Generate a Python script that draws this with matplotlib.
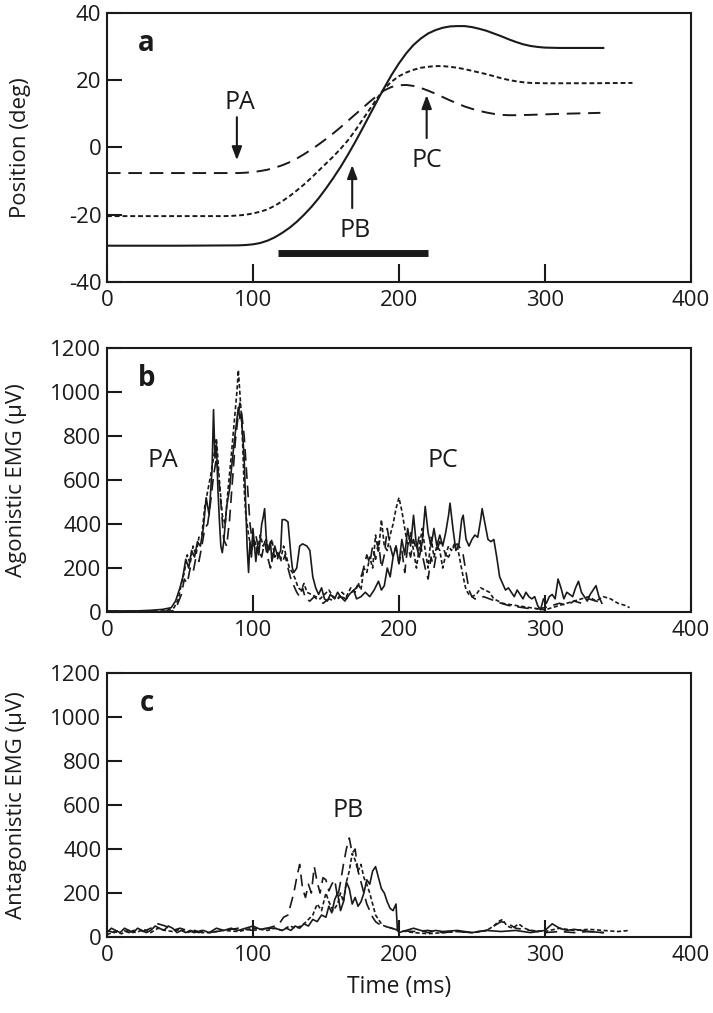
import matplotlib as mpl
mpl.use('Agg')
import matplotlib.pyplot as plt

#
#--- panel a: joint position (deg) vs time (ms)
#
pos_solid_t = [0, 50, 90, 95, 100, 105, 110, 115, 120, 125, 130, 135, 140, 145, 150, 155,
               160, 165, 170, 175, 180, 185, 190, 195, 200, 205, 210, 215, 220, 225, 230,
               235, 240, 245, 250, 255, 260, 265, 270, 275, 280, 285, 290, 295, 300, 310, 340]
pos_solid_v = [-29.2, -29.2, -29.1, -29.0, -28.8, -28.4, -27.7, -26.7, -25.4, -23.9, -22.1,
               -20.0, -17.7, -15.1, -12.2, -9.1, -5.8, -2.2, 1.6, 5.6, 9.7, 13.8, 17.8, 21.6,
               25.0, 28.0, 30.5, 32.4, 33.9, 34.9, 35.6, 36.0, 36.1, 36.1, 35.8, 35.3, 34.7,
               33.9, 33.1, 32.2, 31.4, 30.7, 30.2, 29.9, 29.7, 29.6, 29.6]

pos_short_t = [0, 80, 85, 90, 95, 100, 105, 110, 115, 120, 125, 130, 135, 140, 145, 150,
               155, 160, 165, 170, 175, 180, 185, 190, 195, 200, 205, 210, 215, 220, 225,
               230, 235, 240, 245, 250, 255, 260, 265, 270, 275, 280, 285, 290, 300, 330, 360]
pos_short_v = [-20.4, -20.4, -20.35, -20.2, -20.0, -19.6, -19.1, -18.4, -17.3, -16.0, -14.5,
               -12.8, -11.0, -9.0, -6.9, -4.8, -2.7, -0.4, 2.1, 5.0, 8.2, 11.4, 14.6, 17.5,
               19.6, 21.2, 22.3, 23.1, 23.7, 24.0, 24.2, 24.2, 24.0, 23.7, 23.3, 22.8, 22.3,
               21.8, 21.2, 20.6, 20.1, 19.7, 19.4, 19.2, 19.1, 19.1, 19.2]

pos_long_t = [0, 90, 95, 100, 105, 110, 115, 120, 125, 130, 135, 140, 145, 150, 155, 160,
              165, 170, 175, 180, 185, 190, 195, 200, 205, 210, 215, 220, 225, 230, 235, 240,
              245, 250, 255, 260, 265, 270, 275, 280, 290, 310, 338]
pos_long_v = [-7.6, -7.6, -7.5, -7.3, -7.0, -6.6, -6.0, -5.3, -4.4, -3.3, -2.0, -0.6, 0.9,
              2.5, 4.2, 6.0, 7.9, 9.8, 11.7, 13.6, 15.4, 17.0, 18.0, 18.5, 18.6, 18.3, 17.7,
              16.9, 16.0, 15.0, 14.0, 13.1, 12.2, 11.5, 10.9, 10.4, 10.0, 9.7, 9.6, 9.6, 9.7,
              10.0, 10.3]

bar_t = [117, 220]
bar_v = [-31.4, -31.4]

#
#--- panel b: agonistic EMG (uV)
#
ago_solid_t = [0, 10, 20, 30, 38, 44, 47, 50, 52, 54, 56, 58, 60, 62, 64, 66, 68, 70, 72, 73,
               74, 75, 76, 77, 78, 79, 80, 82, 84, 86, 88, 90, 91, 92, 94, 95, 96, 97, 98, 99,
               100, 102, 103, 104, 106, 107, 108, 109, 110, 112, 113, 115, 117, 119, 120, 122,
               124, 126, 127, 128, 130, 132, 134, 137, 139, 141, 143, 145, 147, 149, 151, 153,
               156, 158, 160, 163, 166, 169, 171, 174, 177, 180, 183, 186, 188, 190, 192, 194,
               196, 198, 200, 202, 204, 206, 208, 210, 212, 214, 216, 218, 220, 222, 224, 226,
               228, 230, 232, 234, 235, 237, 239, 241, 243, 244, 246, 248, 250, 252, 254, 256,
               257, 259, 261, 263, 265, 267, 269, 271, 273, 275, 277, 279, 281, 283, 285, 287,
               289, 291, 293, 295, 297, 299, 301, 303, 305, 307, 309, 311, 313, 315, 317, 319,
               321, 323, 325, 327, 329, 331, 333, 335, 337, 339]
ago_solid_v = [5, 5, 5, 8, 12, 20, 50, 110, 160, 240, 200, 280, 250, 320, 300, 380, 520, 440,
               650, 920, 700, 760, 560, 420, 300, 270, 320, 480, 560, 700, 820, 930, 880, 900,
               700, 500, 300, 180, 320, 250, 380, 230, 300, 260, 400, 430, 470, 350, 270, 320,
               230, 300, 250, 280, 420, 420, 410, 260, 200, 180, 200, 300, 310, 300, 280, 160,
               110, 80, 110, 60, 50, 80, 60, 90, 70, 50, 80, 100, 60, 70, 90, 70, 100, 140, 100,
               120, 200, 160, 250, 300, 220, 330, 260, 380, 300, 440, 300, 250, 320, 480, 360,
               300, 380, 300, 350, 300, 360, 440, 495, 380, 280, 300, 420, 440, 330, 300, 330,
               350, 340, 420, 470, 400, 330, 320, 330, 250, 160, 130, 100, 110, 90, 70, 100, 80,
               60, 90, 70, 60, 70, 30, 10, 60, 40, 70, 80, 60, 150, 110, 60, 90, 80, 70, 110,
               140, 90, 70, 50, 80, 100, 120, 70, 40]

ago_short_t = [0, 20, 40, 46, 49, 51, 53, 55, 57, 59, 61, 63, 65, 67, 69, 71, 73, 75, 77, 79,
               81, 83, 85, 87, 89, 90, 91, 92, 93, 94, 95, 97, 99, 101, 103, 105, 107, 109, 111,
               113, 115, 117, 119, 121, 123, 125, 127, 129, 131, 133, 135, 137, 140, 143, 146,
               149, 152, 155, 158, 161, 164, 167, 170, 172, 174, 176, 178, 180, 182, 184, 186,
               188, 190, 192, 194, 196, 198, 200, 202, 204, 206, 208, 210, 212, 214, 216, 218,
               220, 222, 224, 226, 228, 230, 232, 234, 236, 238, 240, 242, 244, 246, 248, 250,
               253, 256, 259, 262, 265, 268, 271, 275, 280, 285, 290, 295, 300, 305, 310, 315,
               320, 325, 330, 335, 340, 345, 350, 355, 358]
ago_short_v = [3, 3, 5, 20, 60, 130, 180, 260, 220, 300, 260, 340, 350, 480, 550, 620, 700,
               790, 600, 440, 400, 560, 700, 850, 1000, 1100, 1000, 900, 760, 560, 450, 350,
               280, 330, 270, 350, 300, 330, 280, 330, 250, 270, 240, 300, 250, 200, 180, 150,
               110, 100, 130, 90, 80, 70, 60, 80, 100, 70, 60, 90, 70, 110, 90, 130, 100, 200,
               180, 250, 200, 350, 270, 420, 300, 280, 350, 400, 470, 520, 460, 380, 300, 360,
               280, 200, 300, 380, 280, 200, 340, 250, 300, 280, 200, 260, 300, 280, 310, 300,
               230, 160, 100, 80, 70, 80, 110, 100, 90, 60, 50, 40, 35, 30, 25, 20, 15, 10, 20,
               30, 40, 50, 60, 70, 50, 70, 60, 40, 30, 20]

ago_long_t = [0, 30, 45, 48, 51, 53, 55, 57, 59, 61, 63, 65, 67, 69, 71, 73, 75, 76, 78, 80,
              82, 84, 86, 88, 90, 91, 92, 94, 96, 98, 100, 102, 104, 106, 108, 110, 112, 114,
              116, 118, 120, 122, 124, 126, 128, 130, 132, 134, 136, 139, 142, 145, 148, 152,
              156, 160, 164, 168, 172, 175, 178, 180, 182, 184, 186, 188, 190, 192, 194, 196,
              198, 200, 202, 204, 206, 208, 210, 212, 214, 216, 218, 220, 222, 224, 226, 228,
              230, 232, 234, 236, 238, 240, 242, 244, 246, 248, 250, 252, 255, 258, 262, 266,
              270, 275, 280, 285, 290, 295, 300, 305, 310, 315, 320, 325, 330, 335, 340]
ago_long_v = [3, 3, 5, 30, 80, 150, 130, 200, 180, 250, 230, 300, 380, 400, 500, 620, 700,
              650, 500, 330, 300, 420, 600, 780, 900, 950, 920, 800, 600, 400, 300, 350, 280,
              250, 320, 250, 200, 270, 230, 260, 220, 260, 200, 150, 120, 90, 70, 110, 60, 50,
              70, 50, 40, 60, 50, 70, 60, 90, 120, 180, 260, 220, 300, 240, 320, 200, 260, 380,
              300, 250, 300, 220, 280, 180, 300, 250, 330, 280, 350, 260, 200, 150, 250, 200,
              280, 320, 300, 260, 250, 280, 300, 310, 290, 260, 180, 100, 70, 60, 60, 70, 60,
              50, 40, 30, 25, 20, 15, 15, 20, 30, 40, 30, 50, 40, 60, 50, 40]

#
#--- panel c: antagonistic EMG (uV)
#
ant_solid_t = [0, 3, 6, 9, 12, 15, 18, 21, 24, 27, 30, 33, 36, 39, 42, 45, 48, 51, 54, 57,
               60, 63, 66, 70, 75, 80, 85, 90, 95, 100, 105, 110, 115, 120, 123, 126, 129, 132,
               135, 138, 141, 144, 147, 150, 152, 154, 156, 158, 160, 162, 164, 166, 168, 170,
               172, 174, 176, 178, 180, 182, 184, 186, 188, 190, 192, 194, 196, 198, 199, 200,
               205, 210, 215, 220, 225, 230, 240, 250, 260, 270, 280, 290, 300, 305, 310, 315,
               320, 330, 340]
ant_solid_v = [20, 40, 30, 20, 40, 30, 20, 40, 30, 20, 30, 50, 40, 30, 50, 40, 20, 30, 20, 30,
               25, 20, 30, 20, 40, 30, 40, 30, 40, 50, 35, 40, 40, 30, 40, 30, 50, 40, 60, 50,
               80, 70, 100, 90, 140, 110, 170, 200, 120, 160, 250, 220, 150, 180, 140, 160, 200,
               260, 240, 300, 320, 270, 220, 200, 160, 130, 120, 150, 30, 20, 30, 40, 30, 20,
               30, 25, 30, 20, 30, 25, 30, 20, 30, 60, 40, 30, 35, 25, 20]

ant_long_t = [0, 5, 10, 15, 20, 25, 30, 35, 40, 45, 50, 55, 60, 65, 70, 80, 90, 100, 110,
              115, 118, 121, 124, 126, 128, 130, 132, 134, 136, 138, 140, 142, 144, 146, 148,
              150, 152, 154, 156, 158, 160, 162, 164, 166, 168, 170, 172, 174, 176, 178, 180,
              182, 184, 186, 190, 195, 200, 210, 220, 230, 240, 250, 260, 265, 270, 275, 280,
              290, 300, 310, 320, 330, 340]
ant_long_v = [30, 20, 35, 20, 35, 25, 40, 60, 50, 30, 40, 30, 20, 30, 20, 30, 40, 30, 40, 50,
              60, 90, 100, 150, 200, 270, 330, 220, 180, 240, 200, 320, 250, 200, 270, 260,
              210, 240, 260, 180, 250, 330, 400, 450, 380, 400, 300, 250, 200, 150, 120, 90,
              70, 60, 50, 40, 30, 25, 30, 20, 25, 20, 30, 50, 70, 60, 40, 30, 20, 25, 20, 25,
              20]

ant_short_t = [0, 5, 10, 15, 20, 25, 30, 35, 40, 45, 50, 55, 60, 65, 70, 80, 90, 100, 110,
               115, 120, 125, 130, 135, 138, 141, 144, 147, 150, 152, 155, 158, 160, 162, 164,
               166, 168, 170, 172, 174, 176, 178, 180, 182, 184, 186, 188, 190, 195, 200, 210,
               220, 230, 240, 250, 260, 265, 268, 271, 274, 278, 282, 286, 290, 300, 310, 320,
               330, 340, 350, 358]
ant_short_v = [10, 25, 15, 30, 20, 35, 20, 40, 30, 25, 35, 20, 30, 20, 20, 30, 25, 40, 30, 40,
               30, 50, 40, 60, 80, 100, 150, 120, 200, 160, 120, 150, 200, 160, 250, 300, 380,
               350, 300, 330, 270, 240, 200, 150, 100, 80, 60, 50, 40, 30, 20, 15, 20, 25, 20,
               30, 50, 70, 80, 50, 40, 60, 40, 30, 25, 40, 30, 35, 30, 25, 30]

x_ticks = [0, 100, 200, 300, 400]
pos_ticks = [-40, -20, 0, 20, 40]
emg_ticks = [0, 200, 400, 600, 800, 1000, 1200]

ink = '#1a1a1a'
long_dash = (0, (7, 4))
short_dash = (0, (2.5, 1.5))

#--------------------------------------------------------------------------------
#-- style_axis: set up the spines and inward ticks of one panel                --
#--------------------------------------------------------------------------------

def style_axis(ax, yticks, ylabel, letter, xlen, lab_x):
    ax.set_xlim(0, 400)
    ax.set_ylim(yticks[0], yticks[-1])
    ax.set_xticks(x_ticks)
    ax.set_yticks(yticks)
    ax.tick_params(axis='x', direction='in', length=xlen, width=1.5, colors=ink,
                   labelsize=16, pad=6)
    ax.tick_params(axis='y', direction='in', length=11, width=1.5, colors=ink,
                   labelsize=16, pad=4)
    for sp in ax.spines.values():
        sp.set_linewidth(1.5)
        sp.set_color(ink)
    ax.set_ylabel(ylabel, fontsize=16, color=ink)
    ax.yaxis.set_label_coords(lab_x, 0.5)
    ax.text(0.068, 0.885, letter, transform=ax.transAxes, fontsize=20,
            fontweight='bold', ha='center', va='center', color=ink)

#--------------------------------------------------------------------------------
#-- plot_emg: three overlapping emg traces                                     --
#--------------------------------------------------------------------------------

def plot_emg(ax, solid, short, long):
    ax.plot(solid[0], solid[1], color=ink, lw=1.2)
    ax.plot(short[0], short[1], color=ink, lw=1.2, linestyle=short_dash)
    ax.plot(long[0], long[1], color=ink, lw=1.2, linestyle=long_dash)


plt.rcParams['font.family'] = ['Open Sans', 'DejaVu Sans']
plt.rcParams['axes.unicode_minus'] = False

fig = plt.figure(figsize=(7.13, 10.13), dpi=100)
ax_a = fig.add_axes([0.150, 0.7216, 0.819, 0.2656])
ax_b = fig.add_axes([0.150, 0.3958, 0.819, 0.2606])
ax_c = fig.add_axes([0.150, 0.0750, 0.819, 0.2606])
#
#--- panel a
#
ax_a.plot(pos_solid_t, pos_solid_v, color=ink, lw=1.5)
ax_a.plot(pos_short_t, pos_short_v, color=ink, lw=1.4, linestyle=short_dash)
ax_a.plot(pos_long_t, pos_long_v, color=ink, lw=1.4, linestyle=long_dash)
ax_a.plot(bar_t, bar_v, color=ink, lw=5, solid_capstyle='butt')

arrow = dict(arrowstyle='-|>,head_length=0.8,head_width=0.3', color=ink, lw=1.5,
             shrinkA=0, shrinkB=0)
ax_a.annotate('', xy=(89, -3.8), xytext=(89, 9.0), arrowprops=arrow)
ax_a.annotate('', xy=(168, -5.2), xytext=(168, -18.0), arrowprops=arrow)
ax_a.annotate('', xy=(219, 15.6), xytext=(219, 2.8), arrowprops=arrow)
ax_a.text(91, 13.5, 'PA', fontsize=18, ha='center', va='center', color=ink)
ax_a.text(170, -24.6, 'PB', fontsize=18, ha='center', va='center', color=ink)
ax_a.text(219, -3.8, 'PC', fontsize=18, ha='center', va='center', color=ink)
style_axis(ax_a, pos_ticks, 'Position (deg)', 'a', 13, -0.130)
#
#--- panel b
#
plot_emg(ax_b, (ago_solid_t, ago_solid_v), (ago_short_t, ago_short_v),
         (ago_long_t, ago_long_v))
ax_b.text(38, 690, 'PA', fontsize=18, ha='center', va='center', color=ink)
ax_b.text(230, 690, 'PC', fontsize=18, ha='center', va='center', color=ink)
style_axis(ax_b, emg_ticks, 'Agonistic EMG (\u03bcV)', 'b', 12, -0.137)
#
#--- panel c
#
plot_emg(ax_c, (ant_solid_t, ant_solid_v), (ant_short_t, ant_short_v),
         (ant_long_t, ant_long_v))
ax_c.text(165, 577, 'PB', fontsize=18, ha='center', va='center', color=ink)
style_axis(ax_c, emg_ticks, 'Antagonistic EMG (\u03bcV)', 'c', 12, -0.137)
ax_c.set_xlabel('Time (ms)', fontsize=16.5, color=ink, labelpad=6)

plt.savefig('out.png', dpi=100)
plt.close('all')
